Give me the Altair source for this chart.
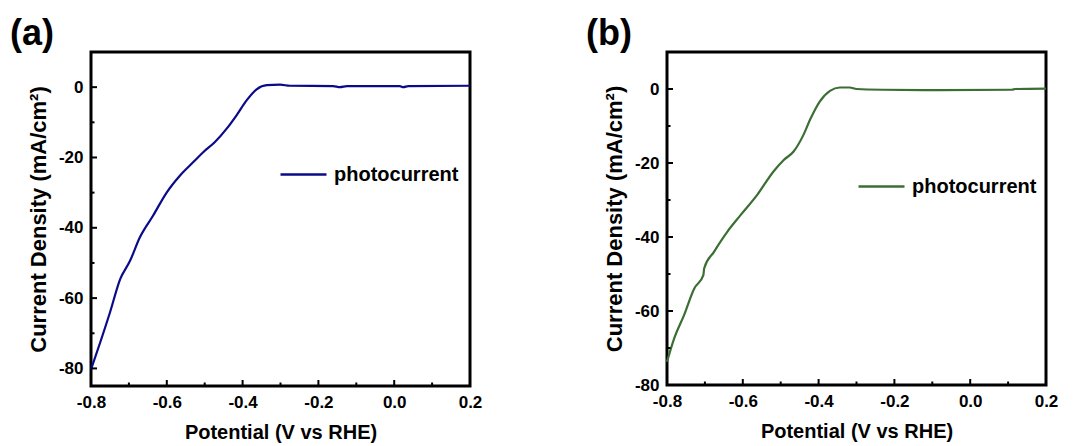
import altair as alt
import pandas as pd

# ---------------- data ----------------
a_potential = [-0.800, -0.776, -0.750, -0.723, -0.697, -0.671, -0.636, -0.600, -0.565,
               -0.530, -0.504, -0.473, -0.442, -0.416, -0.389, -0.363, -0.336, -0.301,
               -0.275, -0.161, -0.143, -0.125, 0.015, 0.024, 0.037, 0.200]
a_current = [-80.3, -72.7, -64.1, -54.6, -49.4, -42.7, -36.5, -29.9, -25.1,
             -21.3, -18.5, -15.6, -11.8, -8.0, -3.7, -0.6, 0.6, 0.7,
             0.4, 0.3, 0.0, 0.3, 0.3, 0.0, 0.3, 0.4]

b_potential = [-0.800, -0.781, -0.755, -0.728, -0.704, -0.702, -0.676, -0.641, -0.606,
               -0.562, -0.519, -0.492, -0.466, -0.440, -0.423, -0.397, -0.370, -0.344,
               -0.318, -0.300, -0.231, -0.082, 0.110, 0.119, 0.200]
b_current = [-73.7, -67.4, -61.1, -53.9, -50.3, -48.5, -44.0, -38.6, -34.1,
             -28.6, -22.3, -19.2, -16.9, -12.4, -8.4, -3.4, -0.5, 0.4,
             0.4, 0.0, -0.2, -0.3, -0.2, 0.0, 0.1]

x_major = [-0.8, -0.6, -0.4, -0.2, 0.0, 0.2]
x_minor = [-0.7, -0.5, -0.3, -0.1, 0.1]
y_major = [0, -20, -40, -60, -80]
y_minor = [-10, -30, -50, -70]

series_name = "photocurrent"
color_a = "#0a0a8a"
color_b = "#3b6e33"

FONT = "Liberation Sans"
W = 379


def panel(letter, xs, ys, color, ydom, legend_x, legend_y, h):
    df = pd.DataFrame({"potential": xs, "current": ys, "series": series_name})
    xscale = alt.Scale(domain=[-0.8, 0.2], nice=False, zero=False)
    yscale = alt.Scale(domain=ydom, nice=False, zero=False)

    line = alt.Chart(df).mark_line(strokeWidth=2.2, interpolate="monotone").encode(
        x=alt.X("potential:Q", scale=xscale,
                axis=alt.Axis(title="Potential (V vs RHE)", values=x_major,
                              labelExpr="replace(format(datum.value, '.1f'), '\u2212', '-')",
                              ticks=False, domain=False, grid=False,
                              labelPadding=8, titlePadding=12,
                              labelFontSize=17, titleFontSize=20,
                              labelFont=FONT, titleFont=FONT,
                              labelFontWeight="bold", titleFontWeight="bold",
                              labelColor="black", titleColor="black",
                              labelFlush=False)),
        y=alt.Y("current:Q", scale=yscale,
                axis=alt.Axis(title="Current Density (mA/cm²)", values=y_major,
                              labelExpr="replace(format(datum.value, 'd'), '\u2212', '-')",
                              ticks=False, domain=False, grid=False,
                              labelPadding=8, titlePadding=8,
                              labelFontSize=17, titleFontSize=22,
                              labelFont=FONT, titleFont=FONT,
                              labelFontWeight="bold", titleFontWeight="bold",
                              labelColor="black", titleColor="black",
                              labelFlush=False)),
        color=alt.Color("series:N",
                        scale=alt.Scale(domain=[series_name], range=[color]),
                        legend=alt.Legend(title=None, orient="none",
                                          legendX=legend_x, legendY=legend_y,
                                          symbolType="stroke", symbolSize=2116,
                                          symbolStrokeWidth=2.5, labelOffset=6,
                                          labelFontSize=20, labelFont=FONT,
                                          labelFontWeight="bold", labelColor="black",
                                          padding=0)),
    )

    xmaj = alt.Chart(pd.DataFrame({"v": x_major})).mark_rule(color="black", strokeWidth=2).encode(
        x=alt.X("v:Q", scale=xscale), y=alt.value(h), y2=alt.value(h - 6))
    xmin = alt.Chart(pd.DataFrame({"v": x_minor})).mark_rule(color="black", strokeWidth=2).encode(
        x=alt.X("v:Q", scale=xscale), y=alt.value(h), y2=alt.value(h - 3.5))
    ymaj = alt.Chart(pd.DataFrame({"v": y_major})).mark_rule(color="black", strokeWidth=2).encode(
        y=alt.Y("v:Q", scale=yscale), x=alt.value(0), x2=alt.value(6))
    ymin = alt.Chart(pd.DataFrame({"v": y_minor})).mark_rule(color="black", strokeWidth=2).encode(
        y=alt.Y("v:Q", scale=yscale), x=alt.value(0), x2=alt.value(3.5))

    label = alt.Chart(pd.DataFrame({"t": [letter]})).mark_text(
        font=FONT, fontSize=36, fontWeight="bold", align="left",
        baseline="alphabetic", color="black"
    ).encode(text="t:N", x=alt.value(-81), y=alt.value(-7))

    return alt.layer(line, xmaj, xmin, ymaj, ymin, label).properties(width=W, height=h)


pa = panel("(a)", a_potential, a_current, color_a, [-85, 10], 188, 98, 334)
pb = panel("(b)", b_potential, b_current, color_b, [-80, 10], 190, 110, 333)

chart = alt.hconcat(pa, pb, spacing=100).resolve_scale(
    color="independent", x="independent", y="independent"
).resolve_legend(color="independent").configure_view(
    stroke="black", strokeWidth=3
).properties(padding={"left": 8, "top": 14, "right": 5, "bottom": 0})

chart.save("out.html", embed_options={"renderer": "svg", "actions": False})
